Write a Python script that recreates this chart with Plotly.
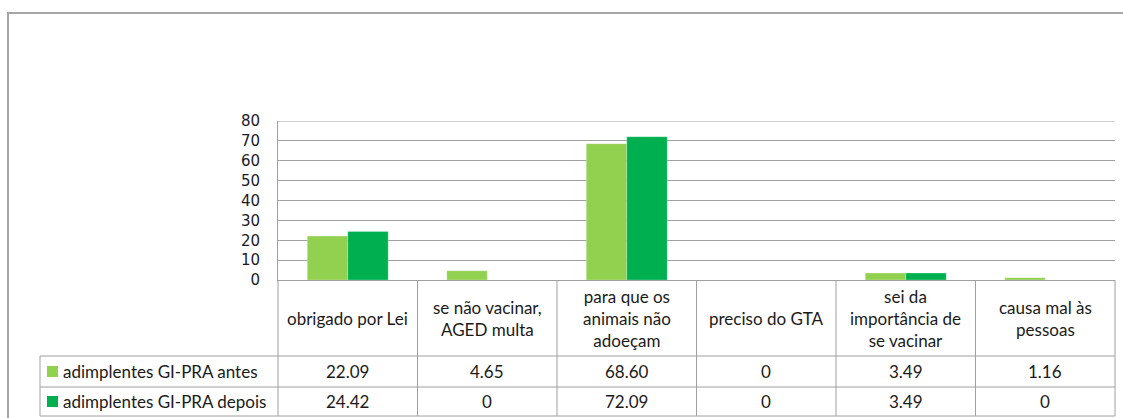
import plotly.graph_objects as go

categories = ["obrigado por Lei", "se não vacinar,<br>AGED multa", "para que os<br>animais não<br>adoeçam",
              "preciso do GTA", "sei da<br>importância de<br>se vacinar", "causa mal às<br>pessoas"]
series_names = ["adimplentes GI-PRA antes", "adimplentes GI-PRA depois"]
antes = [22.09, 4.65, 68.60, 0, 3.49, 1.16]
depois = [24.42, 0, 72.09, 0, 3.49, 0]
colors = ["#92D050", "#00B050"]
y_ticks = [0, 10, 20, 30, 40, 50, 60, 70, 80]

W_PX, H_PX = 1123, 418
L, R, T, B = 278, 8, 121, 138
PW = W_PX - L - R
PH = H_PX - T - B
BASE = T + PH  # pixel y of value 0


def px(p):
    return (p - L) / PW


def py(p):
    return (BASE - p) / PH


xs = list(range(len(categories)))
fig = go.Figure()
for name, vals, col in zip(series_names, [antes, depois], colors):
    fig.add_trace(go.Bar(x=xs, y=vals, name=name,
                         marker=dict(color=col, line=dict(width=0.5, color="rgba(255,255,255,0.5)"))))

line_col = "#a0a0a0"
shapes = []
# outer frame (extends beyond the visible window on right and bottom)
shapes.append(dict(type="rect", xref="paper", yref="paper", x0=px(8), x1=px(1300), y0=py(13), y1=py(600),
                   line=dict(color="#a6a6a6", width=2), fillcolor="rgba(0,0,0,0)"))
# top gridline at max tick
shapes.append(dict(type="line", xref="paper", yref="y", x0=0, x1=1, y0=y_ticks[-1], y1=y_ticks[-1],
                   line=dict(color=line_col, width=1)))
# table geometry (pixels)
tab_left = 40
head_bot = 356
row_mid = 387
tab_bot = 416
for yy in [head_bot, row_mid, tab_bot]:
    shapes.append(dict(type="line", xref="paper", yref="paper", x0=px(tab_left), x1=px(L + PW), y0=py(yy), y1=py(yy),
                       line=dict(color=line_col, width=1)))
shapes.append(dict(type="line", xref="paper", yref="paper", x0=px(tab_left), x1=px(tab_left), y0=py(head_bot),
                   y1=py(tab_bot), line=dict(color=line_col, width=1)))
for i in range(len(categories) + 1):
    xb = 0 if i == 0 else (1 if i == len(categories) else None)
    if xb is not None:
        shapes.append(dict(type="line", xref="paper", yref="paper", x0=xb, x1=xb, y0=py(BASE), y1=py(tab_bot),
                           line=dict(color=line_col, width=1)))
    else:
        shapes.append(dict(type="line", xref="x", yref="paper", x0=i - 0.5, x1=i - 0.5, y0=py(BASE), y1=py(tab_bot),
                           line=dict(color=line_col, width=1)))
# legend keys
rows = [(head_bot, row_mid), (row_mid, tab_bot)]
for k, (yy0, yy1) in enumerate(rows):
    c = (yy0 + yy1) / 2
    shapes.append(dict(type="rect", xref="paper", yref="paper", x0=px(47), x1=px(58), y0=py(c - 5.5), y1=py(c + 5.5),
                       line=dict(width=0), fillcolor=colors[k]))

font_tab = dict(family="Lato, Open Sans, sans-serif", size=17, color="#1a1a1a")
ann = []
for i, cat in enumerate(categories):
    ann.append(dict(x=i, xref="x", y=py((BASE + head_bot) / 2), yref="paper", text=cat, showarrow=False,
                    xanchor="center", yanchor="middle", font=font_tab))
for k, vals in enumerate([antes, depois]):
    yy0, yy1 = rows[k]
    c = (yy0 + yy1) / 2
    ann.append(dict(x=px(61), xref="paper", y=py(c), yref="paper", text=series_names[k], showarrow=False,
                    xanchor="left", yanchor="middle", font=font_tab))
    for i, v in enumerate(vals):
        t = "0" if v == 0 else f"{v:.2f}"
        ann.append(dict(x=i, xref="x", y=py(c), yref="paper", text=t, showarrow=False,
                        xanchor="center", yanchor="middle", font=font_tab))

fig.update_layout(
    width=W_PX, height=H_PX,
    margin=dict(l=L, r=R, t=T, b=B),
    paper_bgcolor="white", plot_bgcolor="white",
    barmode="group", bargap=0.42, bargroupgap=0,
    showlegend=False,
    shapes=shapes, annotations=ann,
    xaxis=dict(range=[-0.5, len(categories) - 0.5], showticklabels=False, ticks="", showgrid=False,
               showline=True, linecolor=line_col, linewidth=1, zeroline=False),
    yaxis=dict(range=[0, 80], tickvals=y_ticks, showgrid=True, gridcolor=line_col, gridwidth=1,
               showline=True, linecolor=line_col, linewidth=1, zeroline=False, ticks="",
               ticklabelstandoff=14,
               tickfont=dict(family="DejaVu Sans, Verdana, sans-serif", size=15, color="#1a1a2a")),
)
fig.write_html("out.html", config={"displayModeBar": False},
               post_script="document.body.style.margin='0';document.body.style.overflow='hidden';")
